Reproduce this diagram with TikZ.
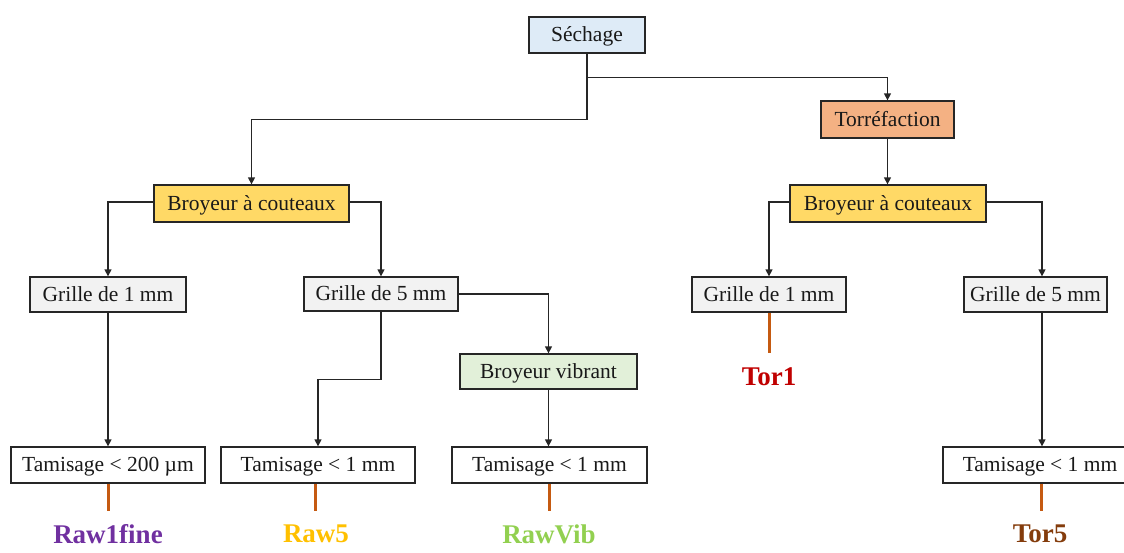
\documentclass[tikz,border=0pt]{standalone}
\usepackage{fontspec}
\setmainfont{Liberation Serif}
\usetikzlibrary{arrows.meta,calc}
\definecolor{cSech}{HTML}{DEEBF7}
\definecolor{cTorr}{HTML}{F4B183}
\definecolor{cBroy}{HTML}{FFD966}
\definecolor{cGril}{HTML}{F2F2F2}
\definecolor{cVib}{HTML}{E2F0D9}
\definecolor{cOr}{HTML}{C55A11}
\definecolor{cPurple}{HTML}{7030A0}
\definecolor{cGold}{HTML}{FFC000}
\definecolor{cGreen}{HTML}{92D050}
\definecolor{cRed}{HTML}{C00000}
\definecolor{cBrown}{HTML}{843C0C}
\begin{document}
\begin{tikzpicture}[x=1pt,y=-1pt,
  box/.style={draw=black!85,line width=1.3pt,inner sep=0pt,minimum height=36pt,
    text height=15pt,text depth=2pt,
    font=\fontsize{21.5}{24}\selectfont,text=black!90},
  arr/.style={draw=black!85,line width=1.3pt,-{Triangle[length=7pt,width=7pt]}},
  ol/.style={draw=cOr,line width=3pt},
  lab/.style={font=\fontsize{27}{30}\selectfont\bfseries,inner sep=0pt}]
\clip (0,0) rectangle (1124,552);
\node[box,fill=cSech,minimum width=116pt] (sech) at (587,35) {Séchage};
\node[box,fill=cTorr,minimum width=133pt,minimum height=37pt] (torr) at (887.5,119.5) {Torréfaction};
\node[box,fill=cBroy,minimum width=195pt,minimum height=37pt] (broyL) at (251.5,203.5) {Broyeur à couteaux};
\node[box,fill=cBroy,minimum width=196pt,minimum height=37pt] (broyR) at (888,203.5) {Broyeur à couteaux};
\node[box,fill=cGril,minimum width=156pt,minimum height=35pt] (gL1) at (108,294.5) {Grille de 1 mm};
\node[box,fill=cGril,minimum width=154pt,minimum height=34pt] (gL5) at (381,294) {Grille de 5 mm};
\node[box,fill=cGril,minimum width=154pt,minimum height=35pt] (gR1) at (769,294.5) {Grille de 1 mm};
\node[box,fill=cGril,minimum width=143pt,minimum height=35pt] (gR5) at (1035.5,294.5) {Grille de 5 mm};
\node[box,fill=cVib,minimum width=177pt,minimum height=35pt] (vib) at (548.5,371.5) {Broyeur vibrant};
\node[box,fill=white,minimum width=194pt] (tL) at (108,465) {Tamisage < 200 µm};
\node[box,fill=white,minimum width=194pt] (tR5) at (318,465) {Tamisage < 1 mm};
\node[box,fill=white,minimum width=195pt] (tV) at (549.5,465) {Tamisage < 1 mm};
\node[box,fill=white,minimum width=194pt] (tT5) at (1040,465) {Tamisage < 1 mm};
% connectors
\draw[arr] (sech.south) -- ++(0,66) -| (broyL.north);
\draw[arr] ($(sech.south)+(0,24)$) -| (torr.north);
\draw[arr] (torr.south) -- (torr.south |- broyR.north);
\draw[arr] ([yshift=1.5pt]broyL.west) -| (gL1.north);
\draw[arr] ([yshift=1.5pt]broyL.east) -| (gL5.north);
\draw[arr] ([yshift=1.5pt]broyR.west) -| (gR1.north);
\draw[arr] ([yshift=1.5pt]broyR.east) -| ([xshift=6.5pt]gR5.north);
\draw[arr] (gL1.south) -- (tL.north);
\draw[arr] (gL5.south) -- ++(0,68) -| (tR5.north);
\draw[arr] (gL5.east) -| (vib.north);
\draw[arr] (vib.south) -- (vib.south |- tV.north);
\draw[arr] ([xshift=6.5pt]gR5.south) -- ([xshift=6.5pt]gR5.south |- tT5.north);
% outputs
\coordinate (eL) at (108,511);
\coordinate (eR5) at (315,511);
\coordinate (eV) at (549,511);
\coordinate (eT5) at (1041,511);
\coordinate (eR1) at (769,353);
\draw[ol] (tL.south) -- (eL);
\draw[ol] (tR5.south -| eR5) -- (eR5);
\draw[ol] (tV.south -| eV) -- (eV);
\draw[ol] (tT5.south -| eT5) -- (eT5);
\draw[ol] (gR1.south) -- (eR1);
\node[lab,text=cPurple] (l1) at (108,534) {Raw1fine};
\node[lab,text=cGold] (l2) at (316,534) {Raw5};
\node[lab,text=cGreen] (l3) at (549,534) {RawVib};
\node[lab,text=cBrown] (l4) at (1040,534) {Tor5};
\node[lab,text=cRed] (l5) at (769,377) {Tor1};
\end{tikzpicture}
\end{document}
